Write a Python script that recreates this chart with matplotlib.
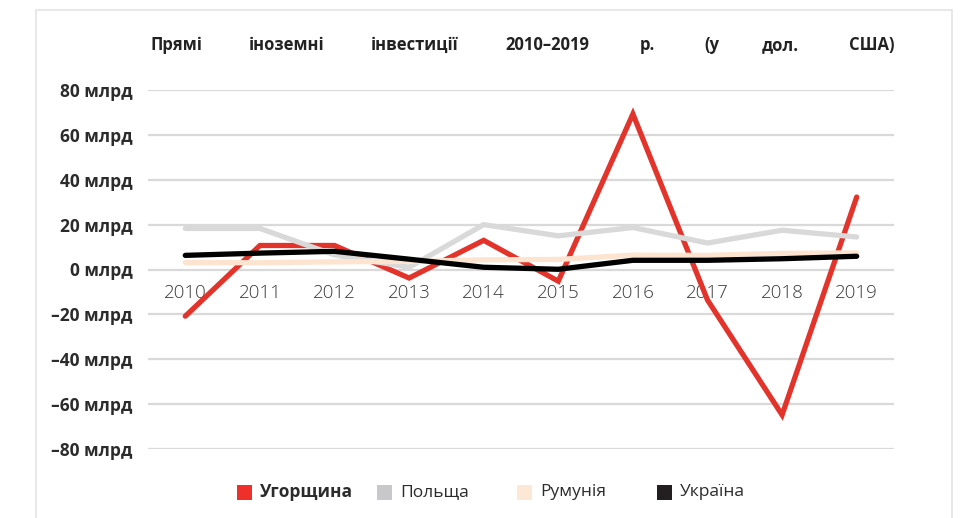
import matplotlib
matplotlib.use("Agg")
import matplotlib.pyplot as plt
from matplotlib.patches import Rectangle
import numpy as np

years = ["2010", "2011", "2012", "2013", "2014", "2015", "2016", "2017", "2018", "2019"]

# FDI values, billions USD
hungary = [-20.8, 10.7, 10.7, -3.8, 13.0, -5.2, 69.3, -13.6, -64.8, 32.3]
poland  = [18.3, 18.3, 6.5, 1.0, 20.0, 15.0, 18.7, 11.8, 17.5, 14.5]
romania = [3.1, 3.0, 3.4, 3.6, 4.3, 4.5, 6.4, 6.3, 7.2, 7.4]
ukraine = [6.3, 7.3, 8.1, 4.6, 1.0, 0.1, 4.1, 4.1, 4.8, 5.9]

series_names = ["Угорщина", "Польща", "Румунія", "Україна"]
line_colors = ["#e3342c", "#d9d9d9", "#fde4d0", "#000000"]
legend_colors = ["#ef2f2a", "#c8c8ca", "#fde8d6", "#231f20"]

title_words = ["Прямі", "іноземні", "інвестиції", "2010–2019", "р.", "(у", "дол.", "США)"]
title_x = [150, 249, 371, 505, 640, 704, 762, 849]  # left edges, px

yticks = [-80, -60, -40, -20, 0, 20, 40, 60, 80]

plt.rcParams["font.family"] = ["Open Sans", "DejaVu Sans"]

W, H = 960, 518
fig = plt.figure(figsize=(W / 100, H / 100), dpi=100)
ax = fig.add_axes([148 / W, 1 - 449 / H, (894 - 148) / W, (449 - 90) / H])

x = np.arange(len(years))
for vals, col in zip([hungary, poland, romania, ukraine], line_colors):
    ax.plot(x, vals, color=col, lw=3.8, solid_capstyle="round", solid_joinstyle="miter", zorder=3)

ax.set_xlim(-0.5, len(years) - 0.5)
ax.set_ylim(-80, 80)
ax.set_yticks(yticks)
ax.set_yticklabels([f"{v} млрд".replace("-", "–") for v in yticks],
                   fontsize=12.5, fontweight="bold", color="#2b2b2b")
ax.tick_params(axis="y", length=0, pad=11)
ax.set_xticks([])
ax.grid(axis="y", color="#d9d9d9", lw=1.6)
ax.set_axisbelow(True)
for s in ax.spines.values():
    s.set_visible(False)

# year labels sit just under the zero line
for i, yr in enumerate(years):
    ax.text(i, -10.5, yr, ha="center", va="center", fontsize=13.5,
            color="#3a3a3a", fontweight=300, zorder=2)

# justified title, one word at a time
for w, px in zip(title_words, title_x):
    fig.text(px / W, 1 - 45 / H, w, ha="left", va="center",
             fontsize=12, fontweight="bold", color="#222222")

# legend: fixed-width slots, square swatch + label
sq = 15
leg_y = 492
for i, (name, col) in enumerate(zip(series_names, legend_colors)):
    x0 = 237 + 140 * i
    fig.patches.append(Rectangle((x0 / W, 1 - (leg_y + sq / 2) / H), sq / W, sq / H,
                                 transform=fig.transFigure, facecolor=col, edgecolor="none"))
    fig.text((x0 + sq + 8) / W, 1 - leg_y / H, name, ha="left", va="center",
             fontsize=12.5, color="#2b2b2b",
             fontweight="bold" if i == 0 else "normal")

# light frame around the card
fig.patches.append(Rectangle((36 / W, -0.05), (952 - 36) / W, 1.05 - 10 / H,
                             transform=fig.transFigure, fill=False,
                             edgecolor="#e4e4e4", lw=1.2))

fig.savefig("out.png", dpi=100, facecolor="white")
